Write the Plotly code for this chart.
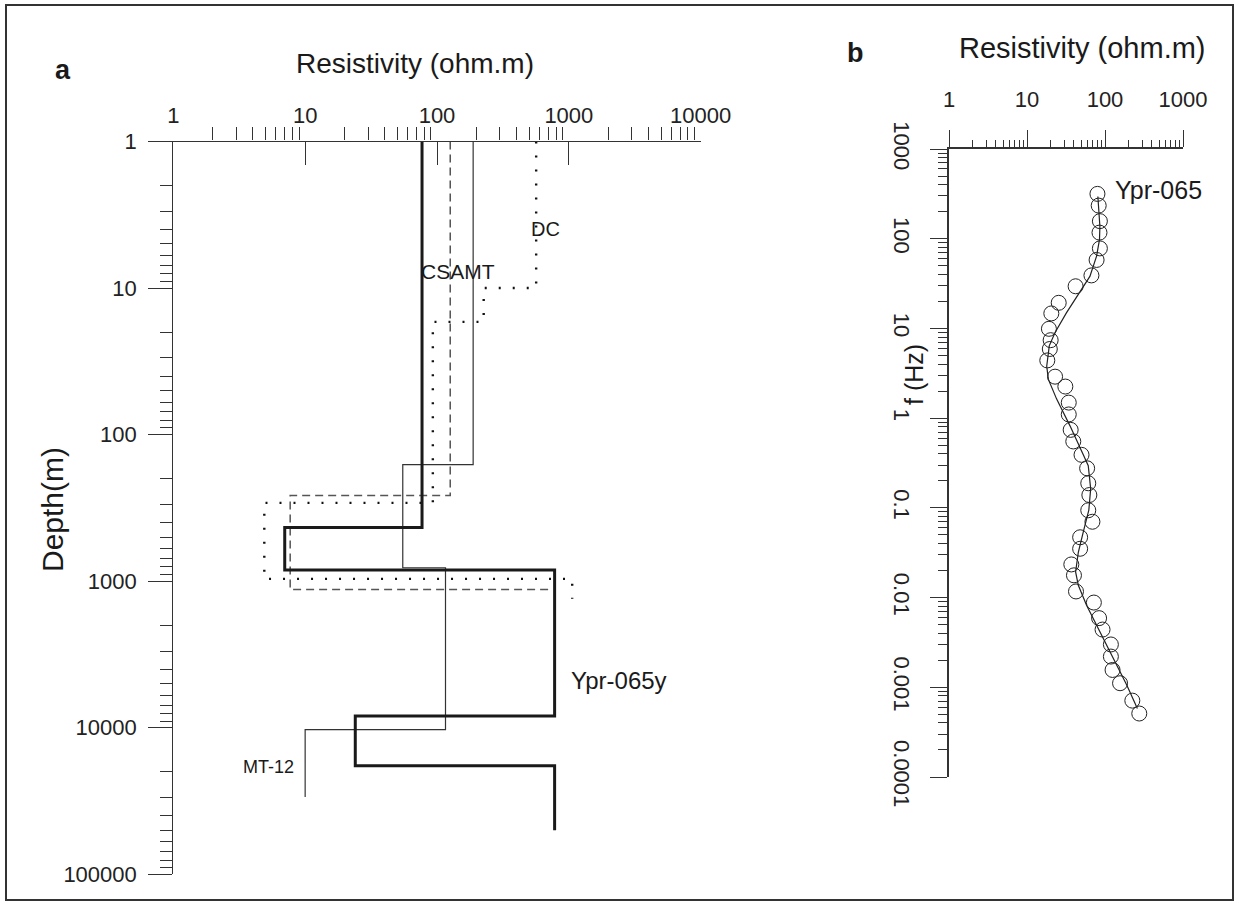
import plotly.graph_objects as go

W, H = 1239, 906

# ---------------- Panel a: layered resistivity models ----------------
ypr_rho = [77, 7, 780, 24, 780]
ypr_bounds = [1, 430, 840, 8300, 18200, 50000]

mt12_rho = [188, 55, 116, 10]
mt12_bounds = [1, 160, 810, 10300, 29700]

csamt_rho = [126, 7.7, 747]
csamt_bounds = [1, 260, 1140]

dc_rho = [565, 226, 93, 4.9, 1060]
dc_bounds = [1, 10, 17, 292, 965, 1320]

res_ticks_a = [1, 10, 100, 1000, 10000]
depth_ticks = [1, 10, 100, 1000, 10000, 100000]

# ---------------- Panel b: sounding curve ----------------
obs_freq = [316, 234, 157, 117, 78, 58, 39, 29.5, 19.3, 14.7, 9.9, 7.4, 5.9, 4.4,
            2.9, 2.25, 1.49, 1.1, 0.74, 0.55, 0.39, 0.276, 0.188, 0.139, 0.094,
            0.070, 0.047, 0.035, 0.0234, 0.0177, 0.0117, 0.0088, 0.0059, 0.0044,
            0.0030, 0.0022, 0.00156, 0.00111, 0.00071, 0.00051]
obs_rho = [80, 83, 86, 85, 86, 78, 67, 42, 25.5, 20.5, 19.1, 20.1, 19.6, 18.2,
           22.9, 31, 34.3, 34.3, 36.3, 39.2, 50, 59, 61, 63, 61,
           69, 48, 48, 37, 40, 42.5, 72, 84, 93,
           119, 119, 125, 156, 224, 275]

fit_freq = [295, 137, 97.5, 64, 38, 26, 14.9, 9, 6.4, 3.8, 2.7, 1.63, 0.82, 0.39,
            0.295, 0.163, 0.094, 0.054, 0.032, 0.0193, 0.0137, 0.0082, 0.0042,
            0.0021, 0.00106, 0.00058]
fit_rho = [81, 86, 85, 78, 64, 48, 32, 22.9, 19.3, 17.9, 18.8, 24, 35.6, 52.7,
           61, 65.5, 62, 52.7, 45.5, 42, 45.5, 58, 86, 128, 190, 260]

res_ticks_b = [1, 10, 100, 1000]
freq_ticks = [1000, 100, 10, 1, 0.1, 0.01, 0.001, 0.0001]
freq_ticktext = ["1000", "100", "10", "1", "0.1", "0.01", "0.001", "0.0001"]


def step(rho, bounds):
    xs, ys = [], []
    for i, r in enumerate(rho):
        top = bounds[i]
        xs.append(r)
        ys.append(top)
        if i + 1 < len(bounds):
            xs.append(r)
            ys.append(bounds[i + 1])
    return xs, ys


def minors(lo_exp, hi_exp):
    out = []
    for e in range(lo_exp, hi_exp):
        for m in range(2, 10):
            out.append(m * 10.0 ** e)
    return out


def px(x):
    return x / W


def py(y):
    return 1 - y / H


fig = go.Figure()

for rho, bnd, style in [
    (dc_rho, dc_bounds, dict(color="#111", width=2.4, dash="2px,12px")),
    (csamt_rho, csamt_bounds, dict(color="#555", width=1.5, dash="8px,5px")),
    (mt12_rho, mt12_bounds, dict(color="#333", width=1.2)),
    (ypr_rho, ypr_bounds, dict(color="#1a1a1a", width=3)),
]:
    xs, ys = step(rho, bnd)
    fig.add_trace(go.Scatter(x=xs, y=ys, mode="lines", line=style,
                             xaxis="x", yaxis="y", hoverinfo="skip"))

fig.add_trace(go.Scatter(x=fit_rho, y=fit_freq, mode="lines",
                         line=dict(color="#222", width=1.2),
                         xaxis="x2", yaxis="y2"))
fig.add_trace(go.Scatter(x=obs_rho, y=obs_freq, mode="markers",
                         marker=dict(symbol="circle-open", size=15,
                                     color="#222", line=dict(width=1)),
                         xaxis="x2", yaxis="y2"))

FONT = "Liberation Sans, Arial, sans-serif"
axcol = "#333"

fig.update_layout(
    template="none",
    width=W, height=H,
    margin=dict(l=0, r=0, t=0, b=0, pad=0),
    paper_bgcolor="white", plot_bgcolor="white",
    showlegend=False,
    font=dict(family=FONT, color="#222"),
    xaxis=dict(
        type="log", range=[0, 4], domain=[px(173.3), px(700.7)],
        anchor="y", side="top", automargin=False,
        showline=True, linecolor=axcol, linewidth=1.2,
        ticks="inside", ticklen=23, tickwidth=1.2, tickcolor=axcol,
        tickmode="array", tickvals=res_ticks_a,
        ticktext=[str(v) for v in res_ticks_a],
        tickfont=dict(size=22, family=FONT, color="#222"),
        ticklabelstandoff=9,
        minor=dict(ticks="outside", ticklen=13, tickwidth=1, tickcolor=axcol,
                   tickmode="array", tickvals=minors(0, 4), showgrid=False),
        showgrid=False, zeroline=False,
    ),
    yaxis=dict(
        type="log", range=[5, 0], domain=[py(874.3), py(141.5)],
        anchor="x", side="left", automargin=False,
        showline=True, linecolor=axcol, linewidth=1.2,
        ticks="outside", ticklen=24, tickwidth=1.2, tickcolor=axcol,
        tickmode="array", tickvals=depth_ticks,
        ticktext=[str(v) for v in depth_ticks],
        tickfont=dict(size=22, family=FONT, color="#222"),
        ticklabelstandoff=7,
        minor=dict(ticks="outside", ticklen=12, tickwidth=1, tickcolor=axcol,
                   tickmode="array", tickvals=minors(0, 5), showgrid=False),
        showgrid=False, zeroline=False,
    ),
    xaxis2=dict(
        type="log", range=[0, 3], domain=[px(949), px(1183)],
        anchor="y2", side="top", automargin=False,
        showline=True, linecolor=axcol, linewidth=1.5,
        ticks="outside", ticklen=17, tickwidth=1.2, tickcolor=axcol,
        tickmode="array", tickvals=res_ticks_b,
        ticktext=[str(v) for v in res_ticks_b],
        tickfont=dict(size=22, family=FONT, color="#222"),
        ticklabelstandoff=14,
        minor=dict(ticks="outside", ticklen=7, tickwidth=1, tickcolor=axcol,
                   tickmode="array", tickvals=minors(0, 3), showgrid=False),
        showgrid=False, zeroline=False,
    ),
    yaxis2=dict(
        type="log", range=[-4, 3], domain=[py(777), py(149)],
        anchor="x2", side="left", automargin=False,
        showline=True, linecolor=axcol, linewidth=1.5,
        ticks="outside", ticklen=17, tickwidth=1.2, tickcolor=axcol,
        tickmode="array", tickvals=freq_ticks, ticktext=freq_ticktext,
        tickangle=90,
        tickfont=dict(size=22, family=FONT, color="#222"),
        ticklabelstandoff=10,
        minor=dict(ticks="outside", ticklen=9, tickwidth=1, tickcolor=axcol,
                   tickmode="array", tickvals=minors(-4, 3), showgrid=False),
        showgrid=False, zeroline=False,
    ),
)

ann = [
    dict(text="<b>a</b>", x=px(63), y=py(70), size=27),
    dict(text="Resistivity (ohm.m)", x=px(415), y=py(63), size=28),
    dict(text="<b>b</b>", x=px(855), y=py(53), size=27),
    dict(text="Resistivity (ohm.m)", x=px(1082), y=py(48), size=29),
    dict(text="Depth(m)", x=px(52), y=py(510), size=30, angle=-90),
    dict(text="f (Hz)", x=px(914), y=py(375), size=25, angle=-90),
    dict(text="DC", x=px(545), y=py(229), size=20),
    dict(text="CSAMT", x=px(458), y=py(271), size=21),
    dict(text="Ypr-065y", x=px(569), y=py(680), size=24, xanchor="left"),
    dict(text="MT-12", x=px(268), y=py(767), size=18),
    dict(text="Ypr-065", x=px(1113), y=py(190), size=25, xanchor="left"),
]
for a in ann:
    fig.add_annotation(
        text=a["text"], x=a["x"], y=a["y"], xref="paper", yref="paper",
        showarrow=False, xanchor=a.get("xanchor", "center"), yanchor="middle",
        textangle=a.get("angle", 0),
        font=dict(size=a["size"], family=FONT, color="#1a1a1a"),
    )

fig.add_shape(type="rect", xref="paper", yref="paper",
              x0=px(6), y0=py(900), x1=px(1233), y1=py(5),
              line=dict(color="#333", width=2), fillcolor="rgba(0,0,0,0)")

fig.write_html("out.html")
